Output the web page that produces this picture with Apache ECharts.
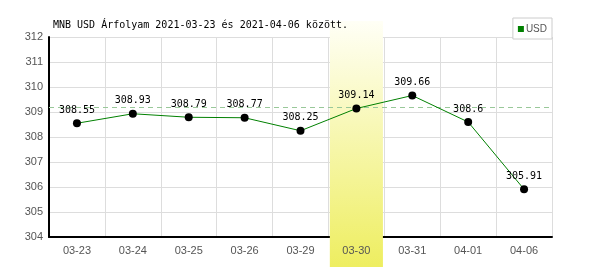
<!DOCTYPE html>
<html><head><meta charset="utf-8">
<script src="https://cdn.jsdelivr.net/npm/echarts@6/dist/echarts.min.js"></script>
<style>html,body{margin:0;padding:0;background:#fff}#c{width:600px;height:270px}</style>
</head><body><div id="c"></div>
<script>
const categories = ['03-23','03-24','03-25','03-26','03-29','03-30','03-31','04-01','04-06'];
const usdValues = [308.55, 308.93, 308.79, 308.77, 308.25, 309.14, 309.66, 308.6, 305.91];
const highlightCategory = '03-30';
const referenceLevel = 309.2;
const yMin = 304, yMax = 312, yStep = 1;
const titleText = 'MNB USD Árfolyam 2021-03-23 és 2021-04-06 között.';
const seriesName = 'USD';

const bandData = categories.map(c => c === highlightCategory ? 1 : null);

const chart = echarts.init(document.getElementById('c'), null, {renderer:'canvas'});
chart.setOption({
  animation: false,
  title: {text: titleText, left: 48, top: 15, textStyle: {fontFamily: 'DejaVu Sans Mono', fontSize: 10, fontWeight: 'normal', color: '#000'}},
  legend: {data: [{name: seriesName, itemStyle: {color: '#008000'}}], right: 48, top: 18, orient: 'vertical', itemWidth: 6, itemHeight: 6, itemGap: 0, padding: [6,5,5,5],
    borderColor: '#ccc', borderWidth: 1, backgroundColor: '#fff', icon: 'rect',
    textStyle: {fontFamily: 'Liberation Sans', fontSize: 10, color: '#555', padding: [0,0,0,-3]}},
  grid: [
    {left: 49, right: 48, top: 37, bottom: 33},
    {left: 49, right: 48, top: 21, bottom: 3}
  ],
  xAxis: [
    {type: 'category', gridIndex: 0, data: categories, boundaryGap: true, position: 'bottom', z: 0,
      axisLine: {lineStyle: {color: '#000', width: 2}}, axisTick: {show: false}, axisLabel: {show: false},
      splitLine: {show: true, lineStyle: {color: '#ddd', width: 1}}},
    {type: 'category', gridIndex: 1, data: categories, show: false},
    {type: 'category', gridIndex: 0, data: categories, boundaryGap: true, position: 'bottom', z: 5,
      axisLine: {show: false}, axisTick: {show: false}, splitLine: {show: false},
      axisLabel: {show: true, margin: 8, fontFamily: 'Liberation Sans', fontSize: 11, color: '#555'}}
  ],
  yAxis: [
    {type: 'value', gridIndex: 0, min: yMin, max: yMax, interval: yStep, z: 0,
      axisLine: {show: true, lineStyle: {color: '#000', width: 2}}, axisTick: {show: false},
      axisLabel: {fontFamily: 'Liberation Sans', fontSize: 11, color: '#555', margin: 6},
      splitLine: {show: true, lineStyle: {color: '#ddd', width: 1}}},
    {type: 'value', gridIndex: 1, min: 0, max: 1, show: false}
  ],
  series: [
    {type: 'bar', name: 'band', xAxisIndex: 1, yAxisIndex: 1, data: bandData, barWidth: '95%', z: 1, silent: true,
      legendHoverLink: false,
      itemStyle: {color: new echarts.graphic.LinearGradient(0,0,0,1,[{offset:0,color:'#fffff6'},{offset:1,color:'#eeee60'}])}},
    {type: 'line', name: seriesName, xAxisIndex: 0, yAxisIndex: 0, data: usdValues, z: 6,
      lineStyle: {color: '#008000', width: 1}, itemStyle: {color: '#000'},
      symbol: 'circle', symbolSize: 8,
      emphasis: {disabled: true},
      label: {show: true, position: 'top', distance: 4, fontFamily: 'DejaVu Sans Mono', fontSize: 10, color: '#000',
        formatter: p => String(p.value)},
      markLine: {silent: true, symbol: 'none', label: {show: false},
        lineStyle: {color: '#99c899', type: [5,4], width: 1},
        data: [{yAxis: referenceLevel}]}
    }
  ]
});
</script></body></html>
